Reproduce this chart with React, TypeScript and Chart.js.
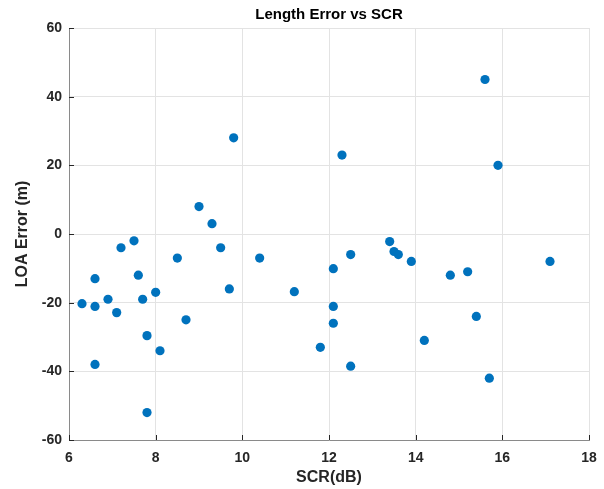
import React, { useEffect, useRef } from "react";
import { Chart, registerables } from "chart.js";

Chart.register(...registerables);

const scrValues = [
  6.3, 6.6, 6.6, 6.6, 6.9, 7.1, 7.2, 7.5, 7.6, 7.7, 7.8, 7.8, 8.0, 8.1, 8.5, 8.7,
  9.0, 9.3, 9.5, 9.7, 9.8, 10.4, 11.2, 11.8, 12.1, 12.1, 12.1, 12.3, 12.5, 12.5,
  13.4, 13.5, 13.6, 13.9, 14.2, 14.8, 15.2, 15.4, 15.6, 15.7, 15.9, 17.1,
];
const loaErrors = [
  -20.3, -13, -21.1, -38, -19, -22.9, -4, -2, -12, -19, -29.6, -52, -17, -34, -7, -25,
  8, 3, -4, -16, 28, -7, -16.8, -33, -10.1, -21.1, -26, 23, -6, -38.5,
  -2.2, -5.1, -6, -8, -31, -12, -11, -24, 45, -42, 20, -8,
];
const xTicks = [6, 8, 10, 12, 14, 16, 18];
const yTicks = [-60, -40, -20, 0, 20, 40, 60];

const chartTitle = "Length Error vs SCR";
const xTitle = "SCR(dB)";
const yTitle = "LOA Error (m)";

const FONT = "'Liberation Sans', Arial, Helvetica, sans-serif";
const TEXT = "#262626";

const decorPlugin = {
  id: "decor",
  afterDraw(chart: any) {
    const { ctx, chartArea } = chart;
    const { left, right, top, bottom } = chartArea;
    const xs = chart.scales.x;
    const ys = chart.scales.y;
    ctx.save();
    // inward tick marks
    ctx.strokeStyle = TEXT;
    ctx.lineWidth = 1;
    ctx.beginPath();
    xTicks.forEach((t) => {
      const px = Math.round(xs.getPixelForValue(t)) + 0.5;
      ctx.moveTo(px, bottom);
      ctx.lineTo(px, bottom - 5);
    });
    yTicks.forEach((t) => {
      const py = Math.round(ys.getPixelForValue(t)) + 0.5;
      ctx.moveTo(left, py);
      ctx.lineTo(left + 5, py);
    });
    ctx.stroke();
    // titles
    ctx.fillStyle = "#000";
    ctx.textAlign = "center";
    ctx.textBaseline = "middle";
    ctx.font = `bold 15px ${FONT}`;
    ctx.fillText(chartTitle, (left + right) / 2, 15);
    ctx.fillStyle = TEXT;
    ctx.font = `bold 16px ${FONT}`;
    ctx.fillText(xTitle, (left + right) / 2, 478);
    ctx.translate(23, (top + bottom) / 2);
    ctx.rotate(-Math.PI / 2);
    ctx.fillText(yTitle, 0, 0);
    ctx.restore();
  },
};

export default function App() {
  const ref = useRef<HTMLCanvasElement>(null);
  useEffect(() => {
    if (!ref.current) return;
    const chart = new Chart(ref.current, {
      type: "scatter",
      data: {
        datasets: [
          {
            data: scrValues.map((x, i) => ({ x, y: loaErrors[i] })),
            backgroundColor: "#0072BD",
            borderColor: "#0072BD",
            borderWidth: 0,
            pointRadius: 4.6,
            pointHoverRadius: 4.6,
          },
        ],
      },
      options: {
        responsive: false,
        animation: false,
        events: [],
        layout: { padding: { top: 28, right: 15, left: 0, bottom: 0 } },
        plugins: { legend: { display: false }, tooltip: { enabled: false }, title: { display: false } },
        scales: {
          x: {
            type: "linear",
            min: 6,
            max: 18,
            afterBuildTicks: (s: any) => {
              s.ticks = xTicks.map((v) => ({ value: v }));
            },
            afterFit: (s: any) => {
              s.height = 49;
              s.paddingLeft = 0;
              s.paddingRight = 0;
            },
            grid: { color: "#e3e3e3", drawTicks: false, lineWidth: 1 },
            border: { color: "#8a8a8a", width: 1 },
            ticks: {
              color: TEXT,
              font: { family: FONT, size: 14, weight: "bold" },
              padding: 10,
              maxRotation: 0,
            },
          },
          y: {
            type: "linear",
            min: -60,
            max: 60,
            afterBuildTicks: (s: any) => {
              s.ticks = yTicks.map((v) => ({ value: v }));
            },
            afterFit: (s: any) => {
              s.width = 69;
              s.paddingTop = 0;
              s.paddingBottom = 0;
            },
            grid: { color: "#e3e3e3", drawTicks: false, lineWidth: 1 },
            border: { color: "#8a8a8a", width: 1 },
            ticks: {
              color: TEXT,
              font: { family: FONT, size: 14, weight: "bold" },
              padding: 7,
            },
          },
        },
      },
      plugins: [decorPlugin],
    });
    return () => chart.destroy();
  }, []);
  return (
    <div style={{ position: "absolute", left: 0, top: 0, width: 604, height: 489, background: "#fff" }}>
      <canvas ref={ref} width={604} height={489} style={{ width: 604, height: 489, display: "block" }} />
    </div>
  );
}
